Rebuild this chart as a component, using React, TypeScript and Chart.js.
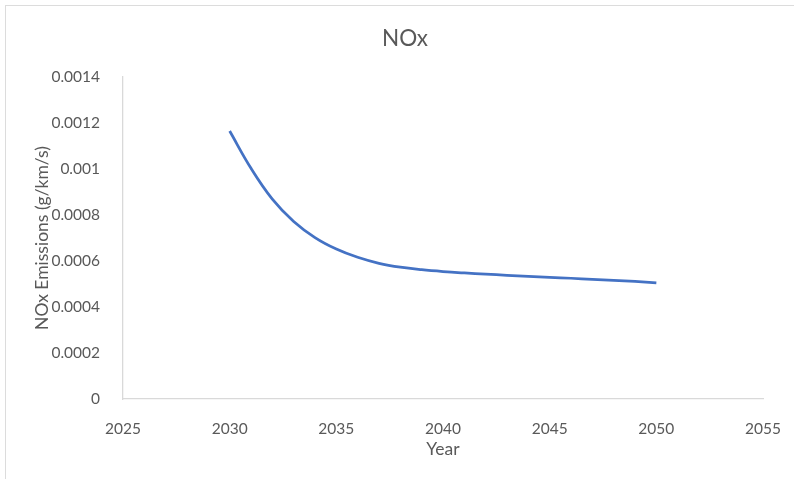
import React, { useEffect, useRef } from "react";
import { Chart, registerables } from "chart.js";

Chart.register(...registerables);

const years = [2030, 2031, 2032, 2033, 2034, 2035, 2036, 2037, 2038, 2039, 2040, 2041, 2042, 2043, 2044, 2045, 2046, 2047, 2048, 2049, 2050];
const noxValues = [
  0.001165, 0.001003, 0.000869, 0.000772, 0.000702, 0.000652, 0.000616, 0.00059, 0.000573, 0.000562,
  0.000554, 0.000548, 0.000543, 0.000538, 0.000533, 0.000529, 0.000525, 0.00052, 0.000516, 0.000511, 0.000505,
];
const xTickRange = { min: 2025, max: 2055, step: 5 };
const yTickRange = { min: 0, max: 0.0014, step: 0.0002 };

const FONT = "Lato, 'Open Sans', sans-serif";
const TEXT = "#595959";
const AXIS = "#d9d9d9";

export default function App() {
  const ref = useRef<HTMLCanvasElement | null>(null);

  useEffect(() => {
    let chart: Chart | null = null;
    let cancelled = false;
    const make = () => {
      if (cancelled || !ref.current) return;
      chart = new Chart(ref.current, {
        type: "line",
        data: {
          datasets: [
            {
              label: "NOx",
              data: years.map((x, i) => ({ x, y: noxValues[i] })),
              borderColor: "#4472C4",
              backgroundColor: "#4472C4",
              borderWidth: 2.75,
              pointRadius: 0,
              tension: 0.4,
              fill: false,
            },
          ],
        },
        options: {
          responsive: false,
          animation: false,
          layout: { padding: { left: 43, right: 27, top: 0, bottom: 0 } },
          plugins: {
            legend: { display: false },
            tooltip: { enabled: false },
            title: {
              display: true,
              text: "NOx",
              color: TEXT,
              font: { family: FONT, size: 22.5, weight: "normal" },
              padding: { top: 25, bottom: 25 },
            },
          },
          scales: {
            x: {
              type: "linear",
              min: xTickRange.min,
              max: xTickRange.max,
              grid: { display: false },
              border: { display: true, color: AXIS, width: 1.3 },
              ticks: {
                stepSize: xTickRange.step,
                color: TEXT,
                font: { family: FONT, size: 15.5 },
                padding: 13,
                maxRotation: 0,
                callback: (v: any) => String(v),
              },
              title: {
                display: true,
                text: "Year",
                color: TEXT,
                font: { family: FONT, size: 17.5 },
                padding: { top: 0, bottom: 19 },
              },
              afterFit: (s: any) => {
                s.height = 80;
              },
            },
            y: {
              type: "linear",
              min: yTickRange.min,
              max: yTickRange.max,
              grid: { display: false },
              border: { display: true, color: AXIS, width: 1.3 },
              ticks: {
                stepSize: yTickRange.step,
                color: TEXT,
                font: { family: FONT, size: 15.5 },
                padding: 15,
                callback: (v: any) => String(parseFloat(Number(v).toFixed(4))),
              },
              title: {
                display: true,
                text: "NOx Emissions (g/km/s)",
                color: TEXT,
                font: { family: FONT, size: 17.5 },
                padding: { top: -11, bottom: 0 },
              },
              afterFit: (s: any) => {
                s.width = 80;
              },
            },
          },
        },
      });
    };
    const fonts = (document as any).fonts;
    if (fonts && fonts.load) {
      Promise.all([fonts.load("16px Lato"), fonts.load("22px Lato")]).then(make, make);
    } else {
      make();
    }
    return () => {
      cancelled = true;
      if (chart) chart.destroy();
    };
  }, []);

  return (
    <div
      style={{
        position: "fixed",
        left: 0,
        top: 0,
        width: 794,
        height: 479,
        overflow: "hidden",
        background: "#ffffff",
      }}
    >
      <div
        style={{
          position: "absolute",
          left: 5,
          top: 5,
          width: 820,
          height: 500,
          border: "1.5px solid #dcdcdc",
          boxSizing: "border-box",
        }}
      />
      <canvas
        ref={ref}
        width={794}
        height={479}
        style={{ position: "absolute", left: 0, top: 0, width: 794, height: 479 }}
      />
    </div>
  );
}
